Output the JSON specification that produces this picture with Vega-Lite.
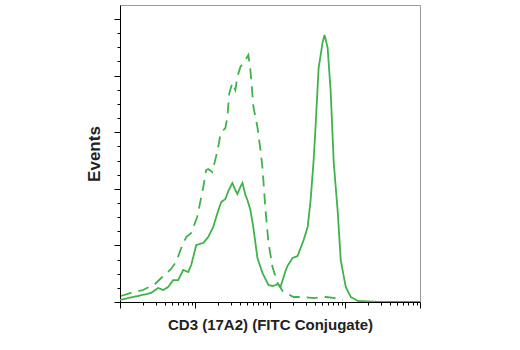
{
  "$schema": "https://vega.github.io/schema/vega-lite/v6.json",
  "autosize": {"type": "none"},
  "padding": {"left": 120, "top": 5, "right": 100, "bottom": 48},
  "width": 300,
  "height": 297,
  "background": "white",
  "config": {
    "view": {"stroke": "#9a9a9a", "strokeWidth": 1},
    "axis": {"grid": false, "labels": false, "domainColor": "#000000", "tickColor": "#000000", "domainWidth": 1, "tickWidth": 1, "titleFont": "Liberation Sans", "titleFontWeight": "bold", "titleFontSize": 15, "titleColor": "#222222"}
  },
  "data": {"values": [
    {"series": "CD3", "x": 1, "y": 1.8},
    {"series": "CD3", "x": 1.28, "y": 3.5},
    {"series": "CD3", "x": 1.74, "y": 5.3},
    {"series": "CD3", "x": 2.6, "y": 8.0},
    {"series": "CD3", "x": 3.22, "y": 12.4},
    {"series": "CD3", "x": 3.76, "y": 10.6},
    {"series": "CD3", "x": 4.39, "y": 13.3},
    {"series": "CD3", "x": 5.12, "y": 19.4},
    {"series": "CD3", "x": 5.97, "y": 19.4},
    {"series": "CD3", "x": 6.96, "y": 28.3},
    {"series": "CD3", "x": 8.12, "y": 26.5},
    {"series": "CD3", "x": 8.91, "y": 32.7},
    {"series": "CD3", "x": 10.4, "y": 50.4},
    {"series": "CD3", "x": 12.9, "y": 52.1},
    {"series": "CD3", "x": 15.0, "y": 57.4},
    {"series": "CD3", "x": 17.5, "y": 66.3},
    {"series": "CD3", "x": 20.5, "y": 81.3},
    {"series": "CD3", "x": 22.4, "y": 88.3},
    {"series": "CD3", "x": 25.4, "y": 91.0},
    {"series": "CD3", "x": 27.9, "y": 98.1},
    {"series": "CD3", "x": 31.5, "y": 105.1},
    {"series": "CD3", "x": 34.5, "y": 98.9},
    {"series": "CD3", "x": 36.7, "y": 95.4},
    {"series": "CD3", "x": 40.3, "y": 101.6},
    {"series": "CD3", "x": 42.9, "y": 105.1},
    {"series": "CD3", "x": 47.0, "y": 94.5},
    {"series": "CD3", "x": 50.0, "y": 90.1},
    {"series": "CD3", "x": 54.8, "y": 81.3},
    {"series": "CD3", "x": 60.1, "y": 65.4},
    {"series": "CD3", "x": 68.0, "y": 38.9},
    {"series": "CD3", "x": 79.4, "y": 25.6},
    {"series": "CD3", "x": 95.5, "y": 15.0},
    {"series": "CD3", "x": 108, "y": 14.1},
    {"series": "CD3", "x": 118.5, "y": 15.0},
    {"series": "CD3", "x": 126, "y": 15.9},
    {"series": "CD3", "x": 138, "y": 13.3},
    {"series": "CD3", "x": 161, "y": 27.4},
    {"series": "CD3", "x": 171, "y": 31.8},
    {"series": "CD3", "x": 200, "y": 38.9},
    {"series": "CD3", "x": 233, "y": 40.6},
    {"series": "CD3", "x": 256, "y": 47.7},
    {"series": "CD3", "x": 281, "y": 54.8},
    {"series": "CD3", "x": 318, "y": 66.3},
    {"series": "CD3", "x": 348, "y": 90.1},
    {"series": "CD3", "x": 382, "y": 125.4},
    {"series": "CD3", "x": 406, "y": 156.4},
    {"series": "CD3", "x": 445, "y": 206.7},
    {"series": "CD3", "x": 504, "y": 229.7},
    {"series": "CD3", "x": 535, "y": 235.9},
    {"series": "CD3", "x": 587, "y": 224.4},
    {"series": "CD3", "x": 645, "y": 185.5},
    {"series": "CD3", "x": 707, "y": 123.7},
    {"series": "CD3", "x": 800, "y": 79.5},
    {"series": "CD3", "x": 877, "y": 37.1},
    {"series": "CD3", "x": 1023, "y": 13.3},
    {"series": "CD3", "x": 1194, "y": 4.4},
    {"series": "CD3", "x": 1482, "y": 0.9},
    {"series": "CD3", "x": 3007, "y": 0},
    {"series": "CD3", "x": 10000, "y": 0},
    {"series": "Isotype", "x": 1.03, "y": 5.3},
    {"series": "Isotype", "x": 1.4, "y": 8.0},
    {"series": "Isotype", "x": 2.03, "y": 10.6},
    {"series": "Isotype", "x": 2.94, "y": 15.9},
    {"series": "Isotype", "x": 3.54, "y": 21.2},
    {"series": "Isotype", "x": 4.67, "y": 28.3},
    {"series": "Isotype", "x": 5.61, "y": 35.3},
    {"series": "Isotype", "x": 6.55, "y": 47.7},
    {"series": "Isotype", "x": 7.64, "y": 57.4},
    {"series": "Isotype", "x": 8.91, "y": 61.0},
    {"series": "Isotype", "x": 10.7, "y": 75.1},
    {"series": "Isotype", "x": 12.9, "y": 101.6},
    {"series": "Isotype", "x": 14.1, "y": 116.6},
    {"series": "Isotype", "x": 15.0, "y": 117.5},
    {"series": "Isotype", "x": 17.0, "y": 114.8},
    {"series": "Isotype", "x": 19.9, "y": 133.4},
    {"series": "Isotype", "x": 21.8, "y": 147.5},
    {"series": "Isotype", "x": 23.2, "y": 151.1},
    {"series": "Isotype", "x": 25.4, "y": 153.7},
    {"series": "Isotype", "x": 27.0, "y": 163.4},
    {"series": "Isotype", "x": 28.7, "y": 184.6},
    {"series": "Isotype", "x": 31.5, "y": 193.5},
    {"series": "Isotype", "x": 34.5, "y": 187.3},
    {"series": "Isotype", "x": 36.7, "y": 198.8},
    {"series": "Isotype", "x": 40.3, "y": 207.6},
    {"series": "Isotype", "x": 47.0, "y": 213.8},
    {"series": "Isotype", "x": 51.5, "y": 218.2},
    {"series": "Isotype", "x": 54.8, "y": 205.0},
    {"series": "Isotype", "x": 60.1, "y": 172.3},
    {"series": "Isotype", "x": 68.0, "y": 154.6},
    {"series": "Isotype", "x": 74.6, "y": 134.3},
    {"series": "Isotype", "x": 79.4, "y": 118.4},
    {"series": "Isotype", "x": 87.1, "y": 81.3},
    {"series": "Isotype", "x": 95.5, "y": 52.1},
    {"series": "Isotype", "x": 108, "y": 30.9},
    {"series": "Isotype", "x": 126, "y": 16.8},
    {"series": "Isotype", "x": 147, "y": 9.7},
    {"series": "Isotype", "x": 206, "y": 4.4},
    {"series": "Isotype", "x": 272, "y": 4.4},
    {"series": "Isotype", "x": 382, "y": 3.5},
    {"series": "Isotype", "x": 553, "y": 4.4},
    {"series": "Isotype", "x": 752, "y": 3.5},
    {"series": "Isotype", "x": 933, "y": 1.8}
  ]},
  "mark": {"type": "line", "color": "#3fb24a", "strokeWidth": 1.8, "clip": true},
  "encoding": {
    "x": {
      "field": "x", "type": "quantitative",
      "scale": {"type": "log", "domain": [1, 10000], "nice": false},
      "axis": {
        "title": "CD3 (17A2) (FITC Conjugate)",
        "values": [1,2,3,4,5,6,7,8,9,10,20,30,40,50,60,70,80,90,100,200,300,400,500,600,700,800,900,1000,2000,3000,4000,5000,6000,7000,8000,9000,10000],
        "tickSize": {"condition": {"test": "indexof([1,10,100,1000,10000], datum.value) >= 0", "value": 6}, "value": 3},
        "titlePadding": 9
      }
    },
    "y": {
      "field": "y", "type": "quantitative",
      "scale": {"domain": [0, 262.4], "nice": false, "zero": true},
      "axis": {
        "title": "Events",
        "titleFontSize": 17,
        "values": [0,12.5,25,37.5,50,62.5,75,87.5,100,112.5,125,137.5,150,162.5,175,187.5,200,212.5,225,237.5,250],
        "tickSize": {"condition": {"test": "datum.value % 50 === 0", "value": 6}, "value": 3},
        "titlePadding": 10
      }
    },
    "strokeDash": {
      "field": "series", "type": "nominal",
      "scale": {"domain": ["CD3", "Isotype"], "range": [[1, 0], [11, 7]]},
      "legend": null
    }
  }
}
